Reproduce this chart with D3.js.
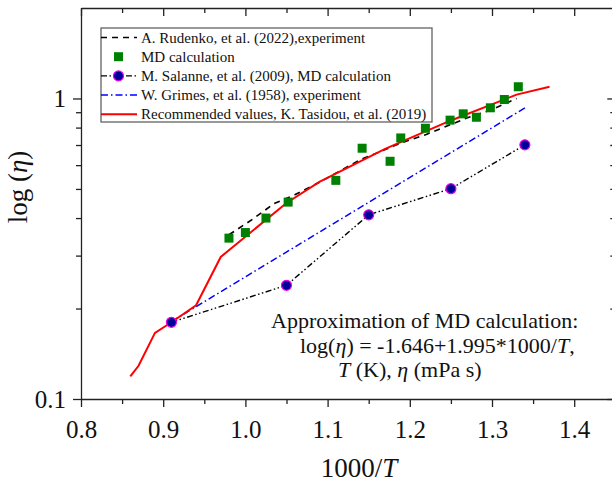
<!DOCTYPE html>
<html>
<head>
<meta charset="utf-8">
<script src="https://cdn.jsdelivr.net/npm/d3@7"></script>
<style>
  body { margin: 0; background: #fff; }
  svg { display: block; font-family: "Liberation Serif", "Times New Roman", serif; }
</style>
</head>
<body>
<svg></svg>
<script>
const w = 612
const h = 482

// data: [1000/T, eta]
const rudenko = [[0.98, 0.352], [1.008, 0.395], [1.035, 0.447], [1.06, 0.478], [1.09, 0.526],
  [1.14, 0.626], [1.19, 0.712], [1.22, 0.759], [1.27, 0.862], [1.30, 0.919], [1.33, 1.0]]
const mdCalc = [[0.98, 0.343], [1.0, 0.358], [1.025, 0.40], [1.052, 0.452], [1.11, 0.534],
  [1.142, 0.683], [1.176, 0.618], [1.189, 0.739], [1.219, 0.796], [1.249, 0.847],
  [1.265, 0.889], [1.281, 0.866], [1.298, 0.931], [1.315, 0.992], [1.332, 1.094]]
const salanne = [[0.91, 0.18], [1.05, 0.239], [1.15, 0.41], [1.25, 0.501], [1.34, 0.701]]
const grimes = [[0.91, 0.181], [1.34, 0.93]]
const tasidou = [[0.86, 0.119], [0.87, 0.129], [0.89, 0.166], [0.91, 0.18], [0.94, 0.205],
  [0.97, 0.297], [1.05, 0.449], [1.09, 0.528], [1.17, 0.68], [1.25, 0.845], [1.33, 1.03], [1.37, 1.094]]

const xMajor = [0.8, 0.9, 1.0, 1.1, 1.2, 1.3, 1.4]
const xMinor = [0.85, 0.95, 1.05, 1.15, 1.25, 1.35, 1.45]
const yMajor = [0.1, 1]
const yMinor = [0.2, 0.3, 0.4, 0.5, 0.6, 0.7, 0.8, 0.9]

const legendNames = ['A. Rudenko, et al. (2022),experiment', 'MD calculation',
  'M. Salanne, et al. (2009), MD calculation', 'W. Grimes, et al. (1958), experiment',
  'Recommended values, K. Tasidou, et al. (2019)']

const svg = d3.select('svg')
  .attr('width', w)
  .attr('height', h);

const x = d3.scaleLinear().domain([0.8, 1.45]).range([81, 615.3])
const y = d3.scaleLog().domain([0.1, 2]).range([399, 8])

const line = d3.line().x(d => x(d[0])).y(d => y(d[1]))

// axes
const axG = svg.append('g')

const xAxisB = axG.append('g').attr('transform', 'translate(0,399)')
xAxisB.call(d3.axisBottom(x).tickValues(xMajor).tickSize(8).tickSizeOuter(0)
  .tickFormat(d3.format('.1f')))
xAxisB.append('g').call(d3.axisBottom(x).tickValues(xMinor).tickSize(5).tickFormat(''))
  .select('.domain').remove()
xAxisB.selectAll('text').attr('y', 39).attr('dy', 0)

const xAxisT = axG.append('g').attr('transform', 'translate(0,8)')
xAxisT.call(d3.axisTop(x).tickValues(xMajor).tickSize(-8).tickSizeOuter(0).tickFormat(''))
xAxisT.append('g').call(d3.axisTop(x).tickValues(xMinor).tickSize(-5).tickFormat(''))
  .select('.domain').remove()

const yAxisL = axG.append('g').attr('transform', 'translate(81,0)')
yAxisL.call(d3.axisLeft(y).tickValues(yMajor).tickSize(8).tickSizeOuter(0).tickFormat(d => d))
yAxisL.append('g').call(d3.axisLeft(y).tickValues(yMinor).tickSize(5).tickFormat(''))
  .select('.domain').remove()
yAxisL.selectAll('text').attr('x', -15)

const yAxisR = axG.append('g').attr('transform', `translate(${x(1.45)},0)`)
yAxisR.call(d3.axisRight(y).tickValues(yMajor).tickSize(-8).tickSizeOuter(0).tickFormat(''))
yAxisR.append('g').call(d3.axisRight(y).tickValues(yMinor).tickSize(-5).tickFormat(''))
  .select('.domain').remove()

axG.selectAll('.domain, .tick line').attr('stroke', '#222').attr('stroke-width', 1.3)
axG.selectAll('text').attr('font-family', '"Liberation Serif", serif')
  .attr('font-size', 25).attr('fill', '#111')

// axis titles
const xt = svg.append('text').attr('x', 359).attr('y', 477).attr('text-anchor', 'middle')
  .attr('font-size', 27).attr('fill', '#111')
xt.append('tspan').text('1000/')
xt.append('tspan').attr('font-style', 'italic').text('T')

const yt = svg.append('text').attr('transform', 'translate(27,187) rotate(-90)')
  .attr('text-anchor', 'middle').attr('font-size', 27).attr('fill', '#111')
yt.append('tspan').text('log (')
yt.append('tspan').attr('font-style', 'italic').text('η')
yt.append('tspan').text(')')

// series
const plot = svg.append('g')

plot.append('path').datum(grimes).attr('d', line).attr('fill', 'none')
  .attr('stroke', '#0000ff').attr('stroke-width', 1.5).attr('stroke-dasharray', '7,3,1.5,3')

plot.append('path').datum(salanne).attr('d', line).attr('fill', 'none')
  .attr('stroke', '#000').attr('stroke-width', 1.4).attr('stroke-dasharray', '6,2.5,1.5,2.5,1.5,2.5')

plot.append('path').datum(rudenko).attr('d', line).attr('fill', 'none')
  .attr('stroke', '#000').attr('stroke-width', 1.6).attr('stroke-dasharray', '6,5')

plot.append('path').datum(tasidou).attr('d', line).attr('fill', 'none')
  .attr('stroke', '#ff0000').attr('stroke-width', 2)

plot.selectAll('rect.md').data(mdCalc).enter().append('rect').attr('class', 'md')
  .attr('x', d => x(d[0]) - 4.5).attr('y', d => y(d[1]) - 4.5)
  .attr('width', 9).attr('height', 9).attr('fill', '#008000')

plot.selectAll('circle.sal').data(salanne).enter().append('circle').attr('class', 'sal')
  .attr('cx', d => x(d[0])).attr('cy', d => y(d[1])).attr('r', 5)
  .attr('fill', '#000099').attr('stroke', '#ee00ee').attr('stroke-width', 1.2)

// legend
const lg = svg.append('g')
lg.append('rect').attr('x', 101).attr('y', 28).attr('width', 331).attr('height', 94)
  .attr('fill', '#fff').attr('stroke', '#555').attr('stroke-width', 1.2)

const rowY = i => 37.5 + i * 19.2
const styles = [
  {stroke: '#000', dash: '6,5', w: 1.6},
  null,
  {stroke: '#000', dash: '6,2.5,1.5,2.5', w: 1.4},
  {stroke: '#0000ff', dash: '7,3,1.5,3', w: 1.5},
  {stroke: '#ff0000', dash: null, w: 2}
]
legendNames.forEach((name, i) => {
  const s = styles[i]
  if (s) {
    lg.append('line').attr('x1', 101).attr('x2', 137).attr('y1', rowY(i)).attr('y2', rowY(i))
      .attr('stroke', s.stroke).attr('stroke-width', s.w).attr('stroke-dasharray', s.dash)
  }
  if (i === 1) {
    lg.append('rect').attr('x', 114).attr('y', rowY(i) - 4.5).attr('width', 9).attr('height', 9)
      .attr('fill', '#008000')
  }
  if (i === 2) {
    lg.append('circle').attr('cx', 118.5).attr('cy', rowY(i)).attr('r', 5)
      .attr('fill', '#000099').attr('stroke', '#ee00ee').attr('stroke-width', 1.2)
  }
  lg.append('text').attr('x', 141).attr('y', rowY(i) + 5).attr('font-size', 15)
    .attr('fill', '#111').text(name)
})

// annotation
const ann = svg.append('g').attr('font-size', 22).attr('fill', '#111')
ann.append('text').attr('x', 271).attr('y', 328).text('Approximation of MD calculation:')
const a2 = ann.append('text').attr('x', 300).attr('y', 353)
a2.append('tspan').text('log(')
a2.append('tspan').attr('font-style', 'italic').text('η')
a2.append('tspan').text(') = -1.646+1.995*1000/')
a2.append('tspan').attr('font-style', 'italic').text('T')
a2.append('tspan').text(',')
const a3 = ann.append('text').attr('x', 338).attr('y', 377)
a3.append('tspan').attr('font-style', 'italic').text('T')
a3.append('tspan').text(' (K), ')
a3.append('tspan').attr('font-style', 'italic').text('η')
a3.append('tspan').text(' (mPa s)')
</script>
</body>
</html>
